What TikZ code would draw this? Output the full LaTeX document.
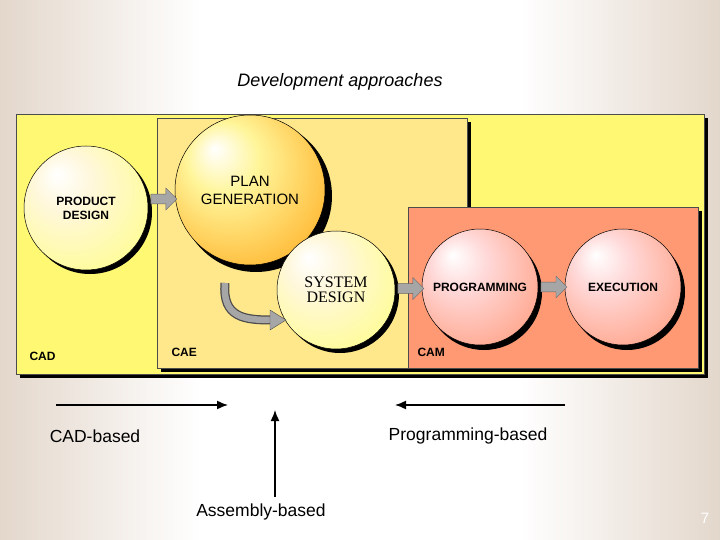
\documentclass[tikz,border=0pt]{standalone}
\usepackage{fontspec}
\setmainfont{Liberation Sans}
\newfontfamily\serifx{Liberation Serif}
\usetikzlibrary{shapes.arrows,arrows.meta,calc}
\pgfdeclareradialshading{sphY}{\pgfpoint{-12bp}{14bp}}{color(0bp)=(white);color(12bp)=(white!40!yellow!70!orange!20);color(45bp)=(yellow!55!white);color(50bp)=(yellow!55!white)}
\pgfdeclareradialshading{sphO}{\pgfpoint{-12bp}{14bp}}{color(0bp)=(white);color(12bp)=(orange!20!yellow!40);color(45bp)=(orange!80!yellow);color(50bp)=(orange!80!yellow)}
\pgfdeclareradialshading{sphS}{\pgfpoint{-12bp}{14bp}}{color(0bp)=(white);color(12bp)=(red!15!white);color(45bp)=(red!50!orange!60!white);color(50bp)=(red!50!orange!60!white)}
\colorlet{bgedge}{black!25!brown!25!white}
\tikzset{
 ball/.style={circle,draw=black,line width=0.5pt,inner sep=0pt,align=center,font=\bfseries\fontsize{12}{14}\selectfont},
 panel/.style={draw=black!70,line width=0.6pt},
 blockarr/.style={single arrow,draw=black!60,fill=black!35,minimum height=26pt,minimum width=22pt,single arrow head extend=4pt,inner sep=3pt},
 lab/.style={font=\fontsize{17.5}{20}\selectfont},
 corner/.style={font=\bfseries\fontsize{12}{14}\selectfont,anchor=west},
 flowarr/.style={-{Latex[length=11pt,width=9pt]},line width=1.5pt}
}
\begin{document}
\begin{tikzpicture}[x=1pt,y=-1pt]
\useasboundingbox (0,0) rectangle (720,540);
\fill[white] (0,0) rectangle (720,540);
\shade[left color=bgedge,right color=white] (0,0) rectangle (200,540);
\shade[left color=white,right color=bgedge] (520,0) rectangle (720,540);
% panels
\fill[black] (20,118) rectangle (708,378);
\fill[yellow!55!white] (16,114) rectangle (704,374);
\draw[panel] (16,114) rectangle (704,374);
\fill[black] (161,122) rectangle (471,372);
\fill[orange!40!yellow!45!white] (157,118) rectangle (467,368);
\draw[panel] (157,118) rectangle (467,368);
\fill[black] (412,211) rectangle (702,372);
\fill[red!45!orange!55!white] (408,207) rectangle (698,368);
\draw[panel] (408,207) rectangle (698,368);
\node[corner] (cad) at (26,356) {CAD};
\node[corner] (cae) at (168,352) {CAE};
\node[corner] (cam) at (414,352) {CAM};
% balls
\fill[black] (90,212) circle (62);
\node[ball,minimum size=124pt,shading=sphY] (pd) at (86,208) {PRODUCT\\DESIGN};
\fill[black] (256,196) circle (76);
\node[ball,minimum size=150pt,shading=sphO,font=\fontsize{15}{18}\selectfont,text depth=0pt] (pg) at (250,190) {PLAN\\GENERATION};
\fill[black] (340,294) circle (59);
\node[ball,minimum size=118pt,shading=sphY,font=\serifx\fontsize{16}{15}\selectfont] (sd) at (336,290) {SYSTEM\\DESIGN};
\fill[black] (484,292) circle (58);
\node[ball,minimum size=116pt,shading=sphS] (pr) at (480,287) {PROGRAMMING};
\fill[black] (627,292) circle (58);
\node[ball,minimum size=116pt,shading=sphS] (ex) at (623,287) {EXECUTION};
% block arrows
\node[blockarr] (a1) at ($(pd.east)!0.5!(pg.west)$) {};
\node[blockarr] (a2) at ($(sd.east)!0.5!(pr.west)$) {};
\node[blockarr] (a3) at ($(pr.east)!0.5!(ex.west)$) {};
\coordinate (cs) at (225,283);
\coordinate (ce) at (286,320);
\draw[black!70,line width=9pt] (cs) .. controls (222,318) and (245,320) .. (272,320);
\draw[black!35,line width=6.5pt] (cs) .. controls (222,318) and (245,320) .. (272,320);
\fill[black!35,draw=black!70] (270,310) -- (ce) -- (270,330) -- cycle;
% text
\node[font=\itshape\fontsize{18}{20}\selectfont] (title) at (340,82) {Development approaches};
\coordinate (c1s) at (56,405); \coordinate (c1e) at (228,405);
\draw[flowarr] (c1s) -- (c1e);
\node[lab] (cadb) at (95,436) {CAD-based};
\coordinate (c2s) at (565,405); \coordinate (c2e) at (395,405);
\draw[flowarr] (c2s) -- (c2e);
\node[lab] (progb) at (468,436) {Programming-based};
\coordinate (c3s) at (275,497); \coordinate (c3e) at (275,410);
\draw[flowarr] (c3s) -- (c3e);
\node[lab] (asmb) at (261,512) {Assembly-based};
\node[white,font=\fontsize{15}{17}\selectfont] (pn) at (705,518) {7};
\end{tikzpicture}
\end{document}
